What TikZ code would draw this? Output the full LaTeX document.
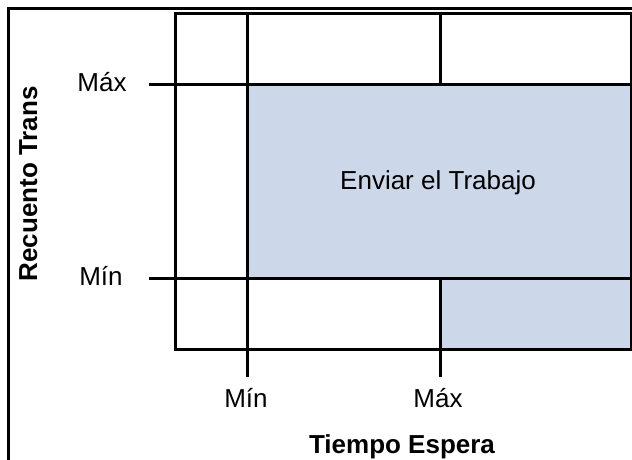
\documentclass[tikz,border=0pt]{standalone}
\usepackage{fontspec}
\setmainfont{Liberation Sans}
\usetikzlibrary{positioning}

\definecolor{zonefill}{RGB}{204,216,234}

\begin{document}
\begin{tikzpicture}[x=1pt,y=-1pt,
	grid line/.style={line width=3pt,line cap=rect},
	frame line/.style={line width=3pt},
	tick label/.style={font=\fontsize{26}{30}\selectfont,anchor=base,inner sep=0pt},
	axis label/.style={font=\bfseries\fontsize{26}{30}\selectfont,anchor=base,inner sep=0pt}]
	
	\useasboundingbox (0,0) rectangle (632,460);
	
	% shaded zone
	\fill[zonefill] (247,85) rectangle (631,278);
	\fill[zonefill] (440,278) rectangle (631,349);
	
	% outer frame
	\draw[frame line] (8,460) -- (8,9) -- (632,9);
	
	% grid
	\draw[grid line] (175,14) rectangle (631,349);
	\draw[grid line] (247,14) -- (247,375);
	\draw[grid line] (440,14) -- (440,85);
	\draw[grid line] (440,278) -- (440,375);
	\draw[grid line] (150,85) -- (631,85);
	\draw[grid line] (150,278) -- (631,278);
	
	% labels
	\node[tick label] (ymax) at (102,92) {Máx};
	\node[tick label] (ymin) at (101,285) {Mín};
	\node[tick label] (xmin) at (246,407) {Mín};
	\node[tick label] (xmax) at (438,407) {Máx};
	\node[tick label] (zone) at (438,189) {Enviar el Trabajo};
	\node[axis label] (xaxis) at (402,453) {Tiempo Espera};
	\node[axis label,rotate=90] (yaxis) at (37,184) {Recuento Trans};
	
\end{tikzpicture}
\end{document}
